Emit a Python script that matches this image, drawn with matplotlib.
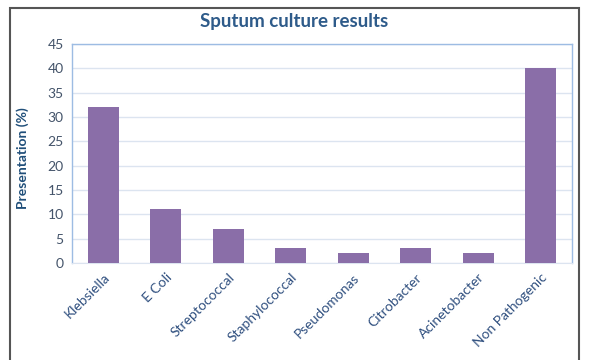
import matplotlib
matplotlib.use("Agg")
import matplotlib.pyplot as plt
from matplotlib.patches import Rectangle

categories = ["Klebsiella", "E Coli", "Streptococcal", "Staphylococcal", "Pseudomonas",
              "Citrobacter", "Acinetobacter", "Non Pathogenic"]
values = [32, 11, 7, 3, 2, 3, 2, 40]
yticks = [0, 5, 10, 15, 20, 25, 30, 35, 40, 45]

plt.rcParams['font.family'] = ['Lato', 'DejaVu Sans']

fig = plt.figure(figsize=(5.89, 3.60), dpi=100)
ax = fig.add_axes([72/589, 1-263/360, 500/589, 219/360])

x = range(len(categories))
ax.bar(x, values, width=0.5, color="#8A6EA8", zorder=3)
ax.set_xlim(-0.5, len(categories)-0.5)
ax.set_ylim(0, 45)
ax.set_yticks(yticks)
ax.set_yticklabels([str(v) for v in yticks], color="#44546A", fontsize=10)
ax.set_xticks(list(x))
ax.set_xticklabels(categories, rotation=45, ha="right", rotation_mode="anchor",
                   color="#2F4F7F", fontsize=10)
ax.tick_params(axis="both", length=0, pad=6)
ax.grid(axis="y", color="#DCE4F0", linewidth=1, zorder=0)
for s in ["left", "top", "right"]:
    ax.spines[s].set_color("#9DBCE3")
    ax.spines[s].set_linewidth(1)
ax.spines["bottom"].set_color("#DCE4F0")
ax.set_ylabel("Presentation (%)", fontsize=10, fontweight="bold", color="#1F4E79")
ax.yaxis.set_label_coords(-43/500, 0.48)
fig.text(0.5, 1-22/360, "Sputum culture results", ha="center", va="center",
         fontsize=13.5, fontweight="bold", color="#2E5B8A")

fig.patches.append(Rectangle((10/589, -0.05), 569/589, 1.05-8/360, transform=fig.transFigure,
                             fill=False, edgecolor="#555555", linewidth=1.5))

fig.savefig("out.png", dpi=100)
